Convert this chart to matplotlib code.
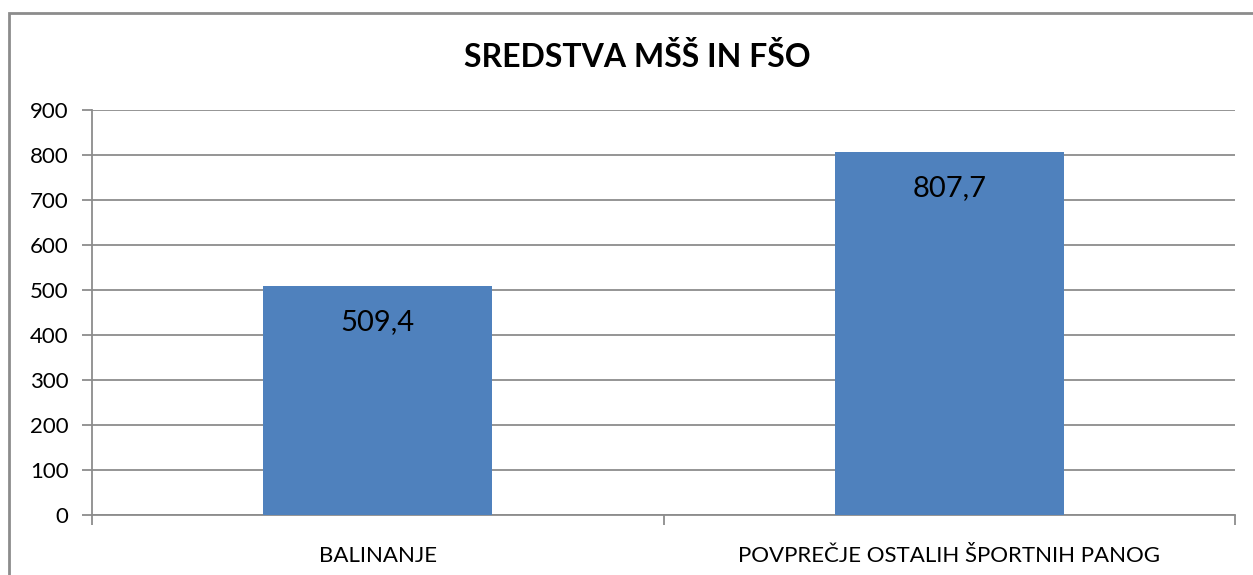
import matplotlib
matplotlib.use("Agg")
import matplotlib.pyplot as plt
from matplotlib.patches import Rectangle

categories = ["BALINANJE", "POVPREČJE OSTALIH ŠPORTNIH PANOG"]
values = [509.4, 807.7]
value_labels = ["509,4", "807,7"]
yticks = [0, 100, 200, 300, 400, 500, 600, 700, 800, 900]

plt.rcParams["font.family"] = ["Lato", "DejaVu Sans"]

grey = "#8c8c8c"
bar_color = "#4f81bd"

fig = plt.figure(figsize=(12.53, 5.75), dpi=100)
ax = fig.add_axes([92 / 1253, 60 / 575, (1235 - 92) / 1253, (515 - 110) / 575])

x = list(range(len(categories)))
ax.bar(x, values, width=0.4, color=bar_color, zorder=3)
for xi, v, lab in zip(x, values, value_labels):
    ax.annotate(lab, (xi, v), xytext=(0, -26), textcoords="offset points",
                ha="center", va="center", fontsize=21, color="black", zorder=4)

ax.set_xlim(-0.5, len(categories) - 0.5)
ax.set_ylim(0, 900)
ax.set_yticks(yticks)
ax.set_yticklabels([str(t) for t in yticks], fontsize=16)
ax.yaxis.grid(True, color=grey, linewidth=1.3, zorder=0)

# category boundaries for tick marks, labels at centres
ax.set_xticks([-0.5, 0.5, 1.5])
ax.set_xticklabels([])
ax.set_xticks(x, minor=True)
ax.set_xticklabels(categories, minor=True, fontsize=16)
ax.tick_params(axis="x", which="minor", length=0, pad=22)
ax.tick_params(axis="x", which="major", length=7, width=1.3, color=grey)
ax.tick_params(axis="y", length=7, width=1.3, color=grey, pad=10)

for s in ["top", "right"]:
    ax.spines[s].set_visible(False)
for s in ["left", "bottom"]:
    ax.spines[s].set_color(grey)
    ax.spines[s].set_linewidth(1.3)

fig.text(637 / 1253, 1 - 57 / 575, "SREDSTVA MŠŠ IN FŠO", ha="center", va="center",
         fontsize=23, fontweight="bold")

# chart-area border (runs off the right and bottom edges)
fig.patches.append(Rectangle((8.5 / 1253, -0.1), 1.2, 1.1 - 12.5 / 575,
                             transform=fig.transFigure, fill=False,
                             edgecolor=grey, linewidth=2))

fig.savefig("out.png", dpi=100)
